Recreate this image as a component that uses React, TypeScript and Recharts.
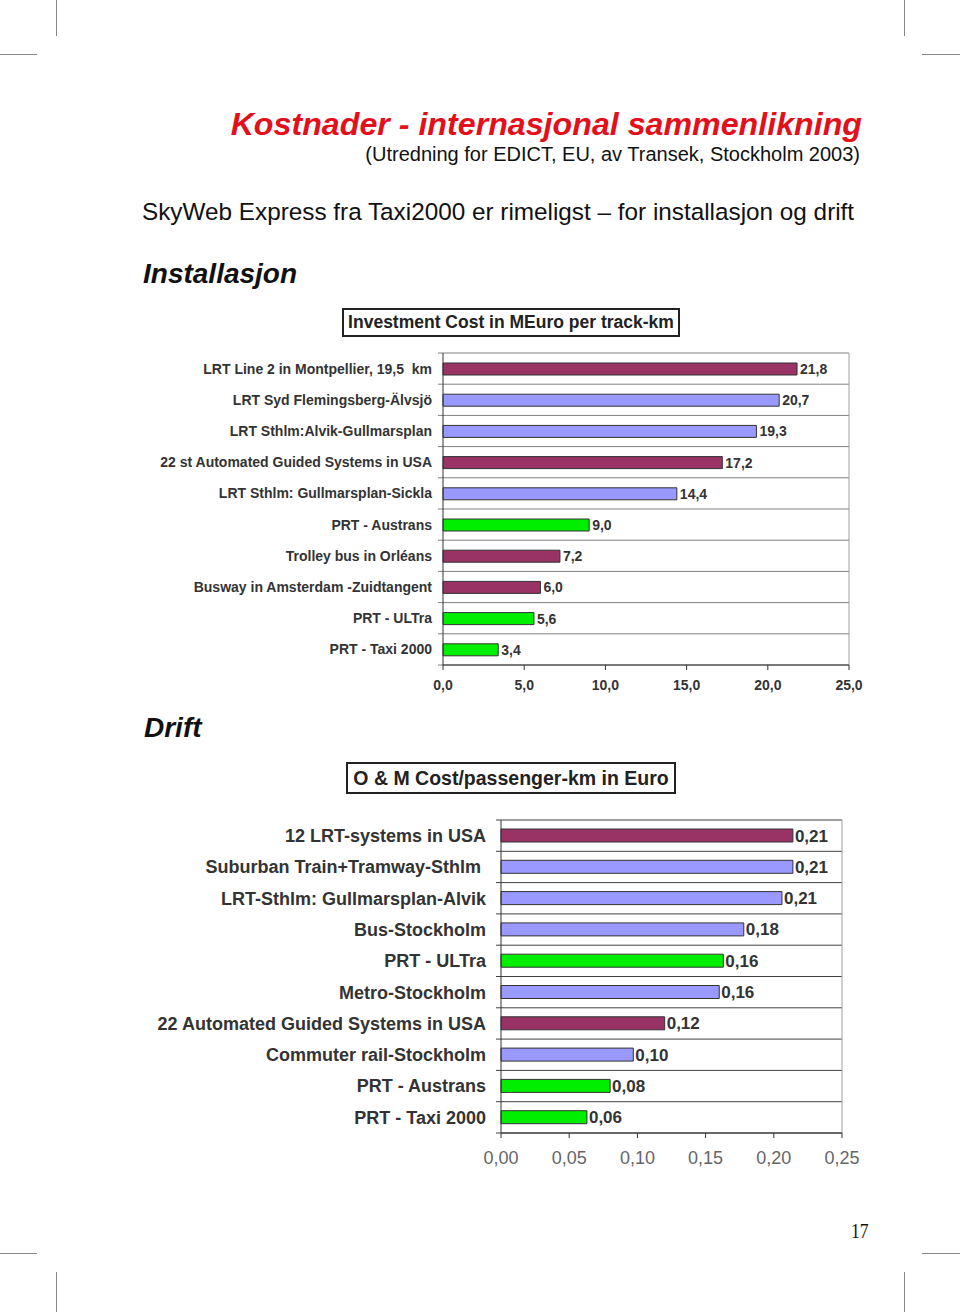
import React from "react";
import { BarChart, Bar, XAxis, YAxis, CartesianGrid, Cell, LabelList } from "recharts";

const FONT = '"Liberation Sans", Arial, Helvetica, sans-serif';

// series colours (Excel classic palette)
const COLORS: { [k: string]: string } = {
  lrt: "#993366",
  stockholm: "#9999ff",
  prt: "#00ee00",
};

// Investeringskostnad, MEuro per track-km
const investCategories = [
  "LRT Line 2 in Montpellier, 19,5  km",
  "LRT Syd Flemingsberg-Älvsjö",
  "LRT Sthlm:Alvik-Gullmarsplan",
  "22 st Automated Guided Systems in USA",
  "LRT Sthlm: Gullmarsplan-Sickla",
  "PRT - Austrans",
  "Trolley bus in Orléans",
  "Busway in Amsterdam -Zuidtangent",
  "PRT - ULTra",
  "PRT - Taxi 2000",
];
const investValues = [21.8, 20.7, 19.3, 17.2, 14.4, 9.0, 7.2, 6.0, 5.6, 3.4];
const investGroups = ["lrt", "stockholm", "stockholm", "lrt", "stockholm", "prt", "lrt", "lrt", "prt", "prt"];
const investTicks = [0, 5, 10, 15, 20, 25];

// Drift, Euro per passenger-km
const omCategories = [
  "12 LRT-systems in USA",
  "Suburban Train+Tramway-Sthlm ",
  "LRT-Sthlm: Gullmarsplan-Alvik",
  "Bus-Stockholm",
  "PRT - ULTra",
  "Metro-Stockholm",
  "22 Automated Guided Systems in USA",
  "Commuter rail-Stockholm",
  "PRT - Austrans",
  "PRT - Taxi 2000",
];
const omValues = [0.214, 0.214, 0.206, 0.178, 0.163, 0.16, 0.12, 0.097, 0.08, 0.063];
const omGroups = ["lrt", "stockholm", "stockholm", "stockholm", "prt", "stockholm", "lrt", "stockholm", "prt", "prt"];
const omTicks = [0, 0.05, 0.1, 0.15, 0.2, 0.25];

const investData = investCategories.map((name, i) => ({ name, value: investValues[i], group: investGroups[i] }));
const omData = omCategories.map((name, i) => ({ name, value: omValues[i], group: omGroups[i] }));

const comma = (v: number, d: number) => v.toFixed(d).replace(".", ",");

function CategoryTick(props: any) {
  const { x, y, payload, size } = props;
  return (
    <text
      x={x}
      y={y}
      dy="0.355em"
      textAnchor="end"
      fontFamily={FONT}
      fontWeight="bold"
      fontSize={size}
      fill="#333"
      style={{ whiteSpace: "pre" }}
    >
      {payload.value}
    </text>
  );
}

// horisontale linjer mellom kategoriene, med små tick-streker til venstre
const boundaryLines = (n: number) => ({ offset }: any) =>
  Array.from({ length: n + 1 }, (_, i) => offset.top + (offset.height * i) / n);
const rightEdge = ({ offset }: any) => [offset.left + offset.width];

const gridLine = (color: string) => (p: any) => (
  <line x1={p.x1 - 5} y1={p.y1} x2={p.x2} y2={p.y2} stroke={color} strokeWidth={1} />
);
const edgeLine = (color: string) => (p: any) => (
  <line x1={p.x1} y1={p.y1} x2={p.x2} y2={p.y2} stroke={color} strokeWidth={1} />
);

function CropMarks() {
  const c = "#888";
  const s = (l: number, t: number, w: number, h: number) => (
    <div style={{ position: "absolute", left: l, top: t, width: w, height: h, background: c }} />
  );
  return (
    <>
      {s(56, 0, 1, 36)}
      {s(904, 0, 1, 36)}
      {s(0, 54, 37, 1)}
      {s(922, 54, 38, 1)}
      {s(0, 1253, 37, 1)}
      {s(922, 1253, 38, 1)}
      {s(56, 1272, 1, 40)}
      {s(904, 1272, 1, 40)}
    </>
  );
}

function TitleBox({ left, top, width, height, size, text }: any) {
  return (
    <div
      style={{
        position: "absolute",
        left,
        top,
        width,
        height,
        boxSizing: "border-box",
        border: "2px solid #222",
        fontFamily: FONT,
        fontWeight: "bold",
        fontSize: size,
        color: "#222",
        display: "flex",
        alignItems: "center",
        justifyContent: "center",
        whiteSpace: "nowrap",
      }}
    >
      {text}
    </div>
  );
}

export default function App() {
  const txt = (style: React.CSSProperties, children: React.ReactNode) => (
    <div style={{ position: "absolute", lineHeight: 1, whiteSpace: "nowrap", fontFamily: FONT, ...style }}>{children}</div>
  );

  return (
    <div style={{ position: "absolute", left: 0, top: 0, width: 960, height: 1312, background: "#fff", overflow: "hidden" }}>
      <CropMarks />

      {txt(
        { right: 960 - 862, top: 108, fontSize: 32.2, fontWeight: "bold", fontStyle: "italic", color: "#e3101c" },
        "Kostnader - internasjonal sammenlikning"
      )}
      {txt({ right: 960 - 860, top: 144, fontSize: 20, color: "#111" }, "(Utredning for EDICT, EU, av Transek, Stockholm 2003)")}
      {txt(
        { left: 142, top: 200, fontSize: 24.3, color: "#111" },
        "SkyWeb Express fra Taxi2000 er rimeligst – for installasjon og drift"
      )}
      {txt({ left: 143, top: 260, fontSize: 28, fontWeight: "bold", fontStyle: "italic", color: "#111" }, "Installasjon")}
      {txt({ left: 144, top: 714, fontSize: 28, fontWeight: "bold", fontStyle: "italic", color: "#111" }, "Drift")}
      {txt(
        { left: 851, top: 1220, fontSize: 22, fontFamily: '"Liberation Serif", "Times New Roman", serif', color: "#111", transform: "scaleX(0.8)", transformOrigin: "left" },
        "17"
      )}

      <TitleBox left={342} top={308} width={338} height={29} size={17.5} text="Investment Cost in MEuro per track-km" />

      <div style={{ position: "absolute", left: 140, top: 340 }}>
        <BarChart
          width={740}
          height={360}
          data={investData}
          layout="vertical"
          margin={{ top: 13, right: 31, bottom: 5, left: 0 }}
          barCategoryGap="60%"
        >
          <CartesianGrid
            horizontal={gridLine("#808080")}
            vertical={edgeLine("#a0a0a0")}
            horizontalCoordinatesGenerator={boundaryLines(investData.length)}
            verticalCoordinatesGenerator={rightEdge}
          />
          <XAxis
            type="number"
            domain={[0, 25]}
            ticks={investTicks}
            interval={0}
            tickFormatter={(v: number) => comma(v, 1)}
            axisLine={{ stroke: "#333" }}
            tickLine={{ stroke: "#333" }}
            tickSize={5}
            tickMargin={10}
            height={30}
            tick={{ fill: "#333", fontSize: 14, fontWeight: "bold", fontFamily: FONT }}
          />
          <YAxis
            type="category"
            dataKey="name"
            width={303}
            axisLine={{ stroke: "#333" }}
            tickLine={false}
            tickSize={0}
            tickMargin={11}
            interval={0}
            tick={(p: any) => <CategoryTick {...p} size={14} />}
          />
          <Bar dataKey="value" barSize={12} stroke="#333" strokeWidth={1} isAnimationActive={false}>
            {investData.map((d) => (
              <Cell key={d.name} fill={COLORS[d.group]} />
            ))}
            <LabelList
              dataKey="value"
              position="right"
              offset={3}
              formatter={(v: any) => comma(Number(v), 1)}
              fill="#333"
              fontSize={14}
              fontWeight="bold"
              fontFamily={FONT}
            />
          </Bar>
        </BarChart>
      </div>

      <TitleBox left={346} top={762} width={330} height={32} size={19.5} text="O & M Cost/passenger-km in Euro" />

      <div style={{ position: "absolute", left: 140, top: 800 }}>
        <BarChart
          width={740}
          height={380}
          data={omData}
          layout="vertical"
          margin={{ top: 20, right: 38, bottom: 7, left: 0 }}
          barCategoryGap="58%"
        >
          <CartesianGrid
            horizontal={gridLine("#404040")}
            vertical={edgeLine("#a0a0a0")}
            horizontalCoordinatesGenerator={boundaryLines(omData.length)}
            verticalCoordinatesGenerator={rightEdge}
          />
          <XAxis
            type="number"
            domain={[0, 0.25]}
            ticks={omTicks}
            interval={0}
            tickFormatter={(v: number) => comma(v, 2)}
            axisLine={{ stroke: "#333" }}
            tickLine={{ stroke: "#333" }}
            tickSize={5}
            tickMargin={13}
            height={40}
            tick={{ fill: "#666", fontSize: 18, fontFamily: FONT }}
          />
          <YAxis
            type="category"
            dataKey="name"
            width={361}
            axisLine={{ stroke: "#333" }}
            tickLine={false}
            tickSize={0}
            tickMargin={15}
            interval={0}
            tick={(p: any) => <CategoryTick {...p} size={18} />}
          />
          <Bar dataKey="value" barSize={13} stroke="#333" strokeWidth={1} isAnimationActive={false}>
            {omData.map((d) => (
              <Cell key={d.name} fill={COLORS[d.group]} />
            ))}
            <LabelList
              dataKey="value"
              position="right"
              offset={2}
              formatter={(v: any) => comma(Number(v), 2)}
              fill="#333"
              fontSize={17}
              fontWeight="bold"
              fontFamily={FONT}
            />
          </Bar>
        </BarChart>
      </div>
    </div>
  );
}
